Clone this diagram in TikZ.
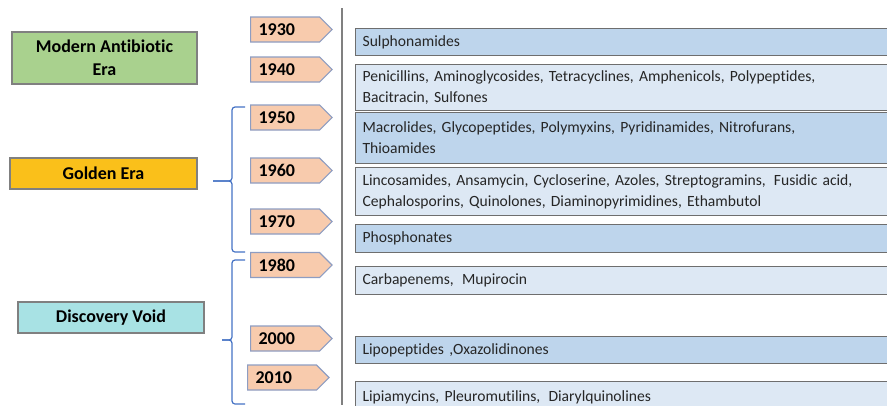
\documentclass[tikz,border=0pt]{standalone}
\usepackage{fontspec}
\setmainfont{Carlito}[Ligatures=NoCommon]
\usetikzlibrary{shapes.symbols, positioning}

\definecolor{eragreen}{HTML}{A9D18E}
\definecolor{eragold}{HTML}{FAC01A}
\definecolor{eracyan}{HTML}{A8E2E4}
\definecolor{yearfill}{HTML}{F8CBAD}
\definecolor{yearedge}{HTML}{8E9DC2}
\definecolor{drugmid}{HTML}{BED5EC}
\definecolor{druglight}{HTML}{DDE8F4}
\definecolor{drugedge}{HTML}{6E6E6E}
\definecolor{braceblue}{HTML}{4472C4}

\begin{document}
\begin{tikzpicture}[
    x=1pt, y=-1pt,
    era/.style={
      draw=gray, line width=1.2pt,
      align=center, inner sep=0pt,
      font=\fontsize{18}{23}\selectfont\bfseries
    },
    year/.style={
      signal, signal to=east, signal pointer angle=90,
      draw=yearedge, fill=yearfill, line width=1.2pt,
      minimum height=25pt, text width=53pt,
      inner xsep=8pt, inner ysep=0pt, anchor=west,
      font=\fontsize{18}{18}\selectfont\bfseries
    },
    drug/.style={
      draw=drugedge, line width=1.2pt, anchor=north west,
      text width=531pt, inner xsep=7pt, inner ysep=0pt,
      align=left, text=black!85,
      font=\fontsize{15.6}{21}\selectfont
    },
    mid/.style={drug, fill=drugmid},
    pale/.style={drug, fill=druglight},
    brace/.style={draw=braceblue, line width=1.2pt, rounded corners=3pt},
    axis/.style={draw=gray, line width=2pt}
  ]
  \clip (0,0) rectangle (887,405);

  % eras
  \node[era, fill=eragreen, minimum width=185pt, minimum height=52pt] (modern) at (104.5,58) {Modern Antibiotic\\Era};
  \node[era, fill=eragold, minimum width=187pt, minimum height=31pt] (golden) at (103.5,173.5) {Golden Era};
  \node[era, fill=eracyan, minimum width=186pt, minimum height=31pt] (void) at (111,317.5) {Discovery Void};

  % years
  \node[year] (y1930) at (250,29.5) {1930};
  \node[year] (y1940) at (250,69.5) {1940};
  \node[year] (y1950) at (250,117.5) {1950};
  \node[year] (y1960) at (250,170.5) {1960};
  \node[year] (y1970) at (250,221.5) {1970};
  \node[year] (y1980) at (250,265) {1980};
  \node[year] (y2000) at (250,338.5) {2000};
  \node[year] (y2010) at (247,377.5) {2010};

  % time axis
  \coordinate (axtop) at (342,8);
  \coordinate (axbot) at (342,405);
  \draw[axis] (axtop) -- (axbot);

  % classes
  \node[mid, minimum height=27pt] (sul) at (355,28) {Sulphonamides};
  \node[pale, minimum height=46pt] (pen) at (355,64) {Penicillins, Aminoglycosides, Tetracyclines, Amphenicols, Polypeptides,\\Bacitracin, Sulfones};
  \node[mid, minimum height=51pt] (mac) at (355,112) {Macrolides, Glycopeptides, Polymyxins, Pyridinamides, Nitrofurans,\\Thioamides};
  \node[pale, minimum height=48pt] (lin) at (355,167) {Lincosamides, Ansamycin, Cycloserine, Azoles, Streptogramins,\hspace{3pt} Fusidic acid,\\Cephalosporins, Quinolones, Diaminopyrimidines, Ethambutol};
  \node[mid, minimum height=28pt] (pho) at (355,224) {Phosphonates};
  \node[pale, minimum height=28pt] (car) at (355,266) {Carbapenems,\hspace{3pt} Mupirocin};
  \node[mid, minimum height=27pt] (lip) at (355,336) {Lipopeptides ,Oxazolidinones};
  \node[pale, minimum height=31pt] (lia) at (355,381) {Lipiamycins, Pleuromutilins,\hspace{3pt} Diarylquinolines};

  % braces
  \coordinate (gtop) at (245,107);
  \coordinate (gbot) at (245,252);
  \coordinate (gtip) at (213,181);
  \draw[brace] (gtop) -| (232,181) -- (gtip);
  \draw[brace] (gbot) -| (232,181) -- (gtip);
  \coordinate (vtop) at (245,260);
  \coordinate (vbot) at (245,404);
  \coordinate (vtip) at (222,340);
  \draw[brace] (vtop) -| (232,340) -- (vtip);
  \draw[brace] (vbot) -| (232,340) -- (vtip);
\end{tikzpicture}
\end{document}
